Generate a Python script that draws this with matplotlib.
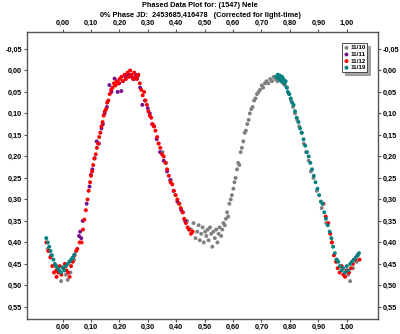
import matplotlib
matplotlib.use("Agg")
import matplotlib.pyplot as plt

# session labels and colours
sessions = ["11/10", "11/11", "11/12", "11/19"]
colors = ["#808080", "#7a0f8c", "#ff0000", "#008080"]

# 11/10
p_1110 = [0.338, 0.352, 0.365, 0.381, 0.397, 0.412,
          0.425, 0.438, 0.452, 0.461, 0.468, 0.474, 0.479, 0.483, 0.488, 0.493,
          0.497, 0.502, 0.506, 0.511, 0.514, 0.519, 0.523, 0.527, 0.531, 0.536,
          0.541, 0.545, 0.549, 0.553, 0.558, 0.562, 0.566, 0.571, 0.575, 0.579,
          0.583, 0.587, 0.592, 0.596, 0.601, 0.605, 0.609, 0.614, 0.618, 0.622,
          0.627, 0.631, 0.636, 0.641, 0.645, 0.650, 0.655, 0.659, 0.664, 0.669,
          0.674, 0.679, 0.684, 0.690, 0.695, 0.701, 0.706, 0.712, 0.718, 0.724,
          0.731, 0.737, 0.743, 0.749, 0.756, 0.762, 0.770, 0.776, 0.783, 0.790,
          0.797, 0.804, 0.811, 0.818, 0.826, 0.833, 0.841, 0.849, 0.857, 0.866,
          0.874, 0.883, 0.895, 0.912, 0.928, 0.947, 0.965, 0.985, 1.005, 1.012,
          1.022, 1.035, -0.052, -0.041, -0.024, -0.005, 0.012, 0.018, 0.028, 0.041]
m_1110 = [0.170, 0.190, 0.215, 0.255, 0.290, 0.310,
          0.330, 0.350, 0.370, 0.355, 0.390, 0.375, 0.360, 0.395, 0.380, 0.365,
          0.400, 0.375, 0.385, 0.370, 0.395, 0.365, 0.380, 0.410, 0.375, 0.390,
          0.370, 0.400, 0.380, 0.365, 0.385, 0.370, 0.355, 0.360, 0.345, 0.330,
          0.340, 0.310, 0.300, 0.290, 0.275, 0.260, 0.250, 0.230, 0.215, 0.220,
          0.190, 0.180, 0.165, 0.145, 0.140, 0.125, 0.115, 0.100, 0.090, 0.085,
          0.070, 0.065, 0.055, 0.050, 0.045, 0.035, 0.040, 0.030, 0.025, 0.030,
          0.020, 0.025, 0.015, 0.020, 0.025, 0.015, 0.020, 0.030, 0.035, 0.040,
          0.055, 0.070, 0.085, 0.100, 0.115, 0.130, 0.145, 0.170, 0.190, 0.210,
          0.235, 0.250, 0.280, 0.320, 0.355, 0.400, 0.440, 0.460, 0.475, 0.490,
          0.460, 0.445, 0.415, 0.430, 0.455, 0.490, 0.475, 0.487, 0.470, 0.440]

# 11/11
p_1111 = [0.058, 0.062, 0.066, 0.071, 0.085, 0.095, 0.100, 0.105, 0.113, 0.120,
          0.128, 0.137, 0.142, 0.148, 0.156, 0.165, 0.172, 0.183, 0.194, 0.199,
          0.207, 0.213, 0.221, 0.225, 0.236, 0.244, 0.252, 0.259, 0.264, 0.273,
          0.281, 0.290, 0.300, 0.307, 0.315, 0.322, 0.331, 0.343, 0.356, 0.368,
          0.379, 0.391, 0.404, 0.418, 0.431, 0.445]
m_1111 = [0.385, 0.375, 0.390, 0.350, 0.310, 0.270, 0.243, 0.230, 0.204, 0.165,
          0.170, 0.135, 0.125, 0.100, 0.085, 0.034, 0.050, 0.019, 0.050, 0.030,
          0.048, 0.025, 0.015, 0.010, 0.010, 0.015, 0.020, 0.010, 0.014, 0.040,
          0.080, 0.070, 0.088, 0.100, 0.125, 0.130, 0.160, 0.190, 0.210, 0.235,
          0.255, 0.280, 0.305, 0.325, 0.350, 0.370]

# 11/12
p_1112 = [-0.057, -0.050, -0.043, -0.036, -0.030, -0.022, -0.021, -0.015, -0.010,
          -0.004, 0.003, 0.008, 0.014, 0.020, 0.025, 0.030, 0.036, 0.042, 0.048,
          0.052, 0.060, 0.067, 0.072, 0.077, 0.082, 0.088, 0.092, 0.097, 0.100,
          0.104, 0.108, 0.112, 0.117, 0.121, 0.125, 0.129, 0.133, 0.137, 0.141,
          0.145, 0.149, 0.153, 0.157, 0.161, 0.166, 0.171, 0.176, 0.181, 0.186,
          0.191, 0.196, 0.201, 0.207, 0.212, 0.218, 0.223, 0.229, 0.234, 0.238,
          0.243, 0.248, 0.252, 0.257, 0.262, 0.267, 0.272, 0.277, 0.282, 0.287,
          0.292, 0.297, 0.302, 0.307, 0.312, 0.317, 0.322, 0.327, 0.333, 0.338,
          0.344, 0.350, 0.356, 0.362, 0.368, 0.374, 0.380, 0.386, 0.392, 0.398,
          0.404, 0.410, 0.416, 0.422, 0.428, 0.434, 0.440, 0.446, 0.452, 0.458,
          0.918, 0.926, 0.935, 0.942, 0.948, 0.955, 0.962, 0.968, 0.975, 0.982,
          0.988, 0.994, 1.000, 1.008, 1.015, 1.022, 1.030, 1.038, 1.045]
m_1112 = [0.400, 0.420, 0.435, 0.455, 0.470, 0.465, 0.480, 0.470, 0.455,
          0.475, 0.460, 0.450, 0.465, 0.470, 0.480, 0.455, 0.445, 0.430, 0.420,
          0.415, 0.400, 0.400, 0.370, 0.347, 0.325, 0.300, 0.280, 0.260, 0.245,
          0.235, 0.220, 0.205, 0.195, 0.180, 0.170, 0.155, 0.145, 0.130, 0.120,
          0.105, 0.095, 0.090, 0.075, 0.070, 0.055, 0.045, 0.040, 0.030, 0.035,
          0.025, 0.030, 0.020, 0.015, 0.025, 0.010, 0.020, 0.005, 0.015, 0.000,
          0.010, 0.020, 0.005, 0.015, 0.020, 0.010, 0.030, 0.045, 0.058, 0.050,
          0.070, 0.080, 0.095, 0.105, 0.110, 0.125, 0.130, 0.140, 0.155, 0.170,
          0.180, 0.195, 0.200, 0.215, 0.230, 0.245, 0.260, 0.265, 0.280, 0.290,
          0.300, 0.310, 0.320, 0.330, 0.345, 0.355, 0.365, 0.370, 0.380, 0.375,
          0.310, 0.340, 0.355, 0.380, 0.400, 0.430, 0.445, 0.460, 0.470, 0.455,
          0.475, 0.480, 0.465, 0.470, 0.460, 0.450, 0.440, 0.430, 0.440]

# 11/19
p_1119 = [0.752, 0.757, 0.761, 0.765, 0.769, 0.773, 0.777, 0.781, 0.785, 0.789,
          0.793, 0.798, 0.803, 0.808, 0.813, 0.818, 0.824, 0.830, 0.836, 0.842,
          0.848, 0.854, 0.860, 0.866, 0.872, 0.878, 0.884, 0.890, 0.897, 0.903,
          0.909, 0.915, 0.921, 0.927, 0.933, 0.940, 0.946, 0.952, 0.958, 0.964,
          0.970, 0.976, 0.982, 0.988, 0.994, 1.000, 1.005, 1.012, 1.018, 1.025,
          1.032, 1.038, 1.043, -0.057, -0.052, -0.047, -0.042, -0.037, -0.032,
          -0.027, -0.022, -0.017, -0.012, -0.006, 0.000, 0.006, 0.012, 0.018,
          0.024, 0.030, 0.036, 0.042]
m_1119 = [0.015, 0.010, 0.020, 0.012, 0.025, 0.015, 0.020, 0.030, 0.025, 0.040,
          0.050, 0.055, 0.065, 0.075, 0.080, 0.095, 0.110, 0.120, 0.135, 0.145,
          0.160, 0.175, 0.190, 0.200, 0.215, 0.230, 0.245, 0.260, 0.275, 0.290,
          0.305, 0.310, 0.330, 0.345, 0.360, 0.375, 0.390, 0.410, 0.425, 0.440,
          0.445, 0.455, 0.465, 0.460, 0.470, 0.455, 0.465, 0.450, 0.445, 0.440,
          0.435, 0.430, 0.425, 0.390, 0.400, 0.410, 0.420, 0.430, 0.440,
          0.450, 0.455, 0.460, 0.465, 0.470, 0.458, 0.465, 0.455, 0.450,
          0.445, 0.440, 0.435, 0.428]

phases = [p_1110, p_1111, p_1112, p_1119]
mags = [m_1110, m_1111, m_1112, m_1119]

xticks = [0.0, 0.1, 0.2, 0.3, 0.4, 0.5, 0.6, 0.7, 0.8, 0.9, 1.0]
yticks = [-0.05, 0.0, 0.05, 0.1, 0.15, 0.2, 0.25, 0.3, 0.35, 0.4, 0.45, 0.5, 0.55]

plt.rcParams["font.family"] = ["Liberation Sans", "DejaVu Sans"]
plt.rcParams["font.weight"] = "bold"

fig = plt.figure(figsize=(4.0, 3.34), dpi=100)
ax = fig.add_axes([0.0675, 0.045, 0.8775, 0.86])

for p, m, c, lab in zip(phases, mags, colors, sessions):
    ax.scatter(p, m, s=8, color=c, edgecolors="none", label=lab)

ax.set_xlim(-0.125, 1.11)
ax.set_ylim(0.578, -0.09)

ax.set_xticks(xticks)
ax.set_xticklabels([f"{v:.2f}".replace(".", ",") for v in xticks])
ax.set_yticks(yticks)
ax.set_yticklabels([f"{v:.2f}".replace(".", ",") for v in yticks])
ax.tick_params(direction="out", length=2.5, width=0.8, colors="#555555",
               labelcolor="black", labelsize=5.3, pad=1,
               top=True, right=True, labeltop=True, labelright=True)
for s in ax.spines.values():
    s.set_color("#555555")
    s.set_linewidth(1.0)

fig.text(0.5, 0.983, "Phased Data Plot for: (1547) Nele", ha="center", va="center",
         fontsize=5.3, fontweight="bold")
fig.text(0.5, 0.953, "0% Phase JD:  2453685,416478   (Corrected for light-time)",
         ha="center", va="center", fontsize=5.3, fontweight="bold")

leg = ax.legend(loc="upper right", bbox_to_anchor=(0.97, 0.96), fontsize=4.5,
                frameon=True, fancybox=False, shadow=True, handletextpad=0.2,
                handlelength=0.8, borderpad=0.3, labelspacing=0.2,
                markerscale=1.0, borderaxespad=0)
leg.get_frame().set_edgecolor("#333333")
leg.get_frame().set_linewidth(0.6)

fig.savefig("out.png", dpi=100)
